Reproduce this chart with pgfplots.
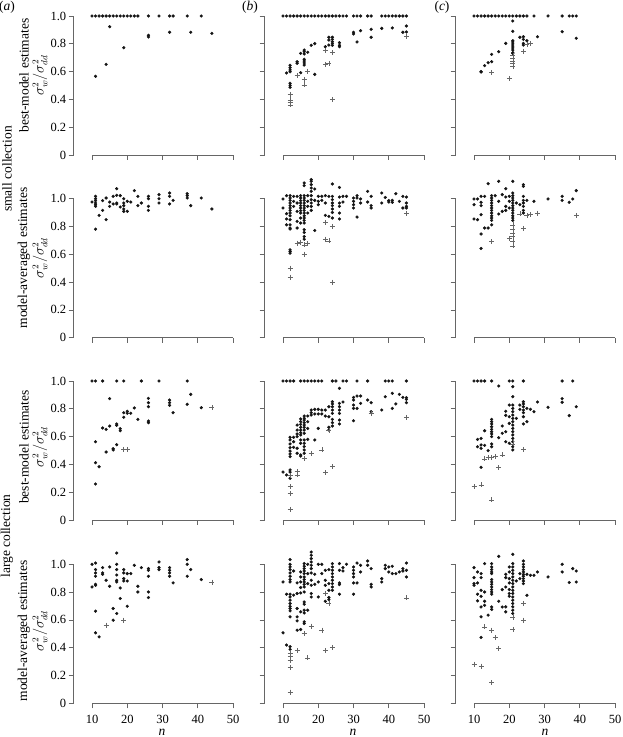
\documentclass[border=0pt]{standalone}
\usepackage{fontspec}
\setmainfont{Liberation Serif}
\usepackage{pgfplots}
\pgfplotsset{compat=1.18}
\definecolor{axg}{gray}{0.4}
\pgfplotsset{
 panel/.style={scale only axis, width=162.86pt, height=152.9pt, xmin=4.8, xmax=51, ymin=0, ymax=1.1, clip=false,
  axis x line*=bottom, axis y line*=left, axis line style={draw=none},
  xtick={10,20,30,40,50}, ytick={0,0.2,0.4,0.6,0.8,1.0}, xticklabels={}, yticklabels={},
  tick align=outside, major tick length=5pt, tick style={color=axg, line width=0.6pt},
  ticklabel style={font=\fontsize{12.5}{14}\selectfont}, xticklabel style={yshift=-3pt}, yticklabel style={xshift=1pt},
  anchor=south west},
 ylab/.style={yticklabels={0,0.2,0.4,0.6,0.8,1.0}},
 xlab/.style={xticklabels={10,20,30,40,50}},
 dot/.style={only marks, mark=*, mark size=1.4pt, color=black!92, mark options={draw=none, fill=black!92}},
 pls/.style={only marks, mark=+, mark size=2.5pt, color=black!60, mark options={line width=0.6pt}},
}
\newcommand{\axlines}{\draw[axg, line width=0.6pt] (axis cs:10,0) -- (axis cs:50,0);
 \draw[axg, line width=0.6pt] (axis cs:4.8,0) -- (axis cs:4.8,1);}
\begin{document}
\begin{tikzpicture}[x=1pt,y=1pt]
\useasboundingbox (0,0) rectangle (622,737);
\def\fs{\fontsize{13.5}{15}\selectfont}
% ---------- Row 1 ----------
\begin{axis}[panel, ylab, at={(73.7pt,582pt)}]
\addplot[dot] coordinates {(10,1)(11,1)(12,1)(13,1)(14,1)(15,1)(16,1)(17,1)(18,1)(19,1)(20,1)(21,1)(22,1)(23,1)(26,1)(29,1)(32,1)(33,1)(37,1)(41,1)
(11,0.566)(14,0.652)(15,0.923)(19,0.772)(26,0.861)(26,0.849)(32,0.883)(38,0.883)(44,0.875)};
\axlines
\end{axis}
\begin{axis}[panel, at={(264.7pt,582pt)}]
\addplot[dot] coordinates {(10,1)(11,1)(12,1)(13,1)(14,1)(15,1)(16,1)(17,1)(18,1)(19,1)(20,1)(21,1)(22,1)(23,1)(24,1)(25,1)(26,1)(27,1)(28,1)(30,1)(31,1)(32,1)(34,1)(35,1)(38,1)(39,1)(40,1)(41,1)(42,1)(43,1)(44,1)(45,1)
(11,0.590)(12,0.645)(12,0.628)(12,0.612)(12,0.599)(12,0.516)(12,0.501)(12,0.487)(14,0.671)(14,0.660)(15,0.731)(15,0.592)(16,0.755)(16,0.743)(16,0.727)(16,0.688)(16,0.676)(16,0.662)(16,0.647)(17,0.739)(18,0.789)(19,0.801)(19,0.580)(22,0.779)(23,0.791)(23,0.847)(23,0.827)(24,0.847)(24,0.832)(24,0.815)(24,0.801)(24,0.789)(26,0.808)(26,0.789)(26,0.779)(30,0.883)(30,0.871)(31,0.813)(32,0.894)(35,0.904)(35,0.847)(38,0.911)(41,0.914)(44,0.883)(45,0.928)(45,0.885)};
\addplot[pls] coordinates {(12,0.437)(12,0.396)(12,0.376)(12,0.360)(14,0.573)(16,0.544)(16,0.504)(17,0.604)(22,0.750)(22,0.652)(23,0.660)(24,0.736)(24,0.400)(45,0.856)};
\axlines
\end{axis}
\begin{axis}[panel, at={(455.7pt,582pt)}]
\addplot[dot] coordinates {(10,1)(11,1)(12,1)(13,1)(14,1)(15,1)(16,1)(17,1)(18,1)(19,1)(20,1)(21,1)(22,1)(23,1)(24,1)(25,1)(27,1)(31,1)(35,1)(37,1)(38,1)(39,1)
(12,0.597)(12,0.600)(13,0.643)(14,0.664)(15,0.724)(15,0.671)(17,0.743)(19,0.803)(21,0.964)(21,0.890)(21,0.822)(21,0.813)(21,0.799)(21,0.784)(21,0.770)(21,0.755)(21,0.736)(21,0.731)(23,0.847)(24,0.851)(24,0.832)(24,0.803)(24,0.791)(25,0.822)(28,0.851)(35,0.887)(39,0.840)};
\addplot[pls] coordinates {(15,0.592)(20,0.549)(21,0.719)(21,0.698)(21,0.676)(21,0.662)(21,0.640)(24,0.748)(25,0.796)(26,0.803)};
\axlines
\end{axis}
% ---------- Row 2 ----------
\begin{axis}[panel, ylab, at={(73.7pt,399.3pt)}]
\addplot[dot] coordinates {(10,0.976)(11,0.986)(11,0.969)(11,0.957)(11,0.945)(11,1.017)(11,1.0)(11,0.781)(12,0.880)(13,0.986)(13,0.916)(14,1.005)(14,0.849)(15,0.976)(15,0.945)(16,1.017)(16,0.962)(17,1.072)(17,1.024)(17,0.969)(17,0.962)(18,1.022)(18,0.940)(19,1.0)(19,0.969)(19,0.950)(19,0.926)(19,0.909)(20,0.981)(20,0.909)(21,0.976)(22,1.058)(23,1.017)(23,0.950)(24,0.969)(26,1.017)(26,1.0)(26,0.945)(26,0.916)(29,1.029)(29,1.0)(29,0.969)(32,1.041)(32,1.017)(32,0.962)(33,0.988)(37,1.036)(37,1.022)(37,1.005)(38,0.950)(41,1.005)(44,0.926)};
\axlines
\end{axis}
\begin{axis}[panel, at={(264.7pt,399.3pt)}]
\addplot[dot] coordinates {(10,0.998)(10,0.933)
(11,1.022)(11,0.892)(11,0.854)(11,0.812)
(12,1.022)(12,1.005)(12,0.988)(12,0.969)(12,0.950)(12,0.933)(12,0.916)(12,0.897)(12,0.877)(12,0.849)(12,0.812)(12,0.789)(12,0.782)(12,0.632)(12,0.620)(12,0.608)
(13,1.017)(13,0.981)(13,0.945)
(14,1.017)(14,0.969)(14,0.909)(14,0.837)(14,0.789)
(15,1.022)(15,1.005)(15,0.986)(15,0.969)(15,0.950)(15,0.933)(15,0.914)(15,0.897)(15,0.861)(15,0.825)
(16,1.113)(16,1.094)(16,1.022)(16,1.005)(16,0.988)(16,0.969)(16,0.950)(16,0.933)(16,0.916)(16,0.897)(16,0.877)(16,0.861)(16,0.844)(16,0.825)(16,0.777)(16,0.757)(16,0.728)(16,0.709)
(17,1.022)(17,0.981)(17,0.945)(17,0.897)
(18,1.137)(18,1.125)(18,1.101)(18,1.077)(18,1.053)(18,1.022)(18,0.993)(18,0.969)(18,0.945)(18,0.916)
(19,1.070)(19,0.988)(19,0.771)
(20,1.017)(20,0.981)(20,0.957)
(21,1.017)(21,0.988)
(22,1.022)(22,0.969)(22,0.880)
(23,1.017)(23,0.873)
(24,1.106)(24,1.017)(24,0.993)(24,0.969)(24,0.950)(24,0.926)(24,0.901)(24,0.861)
(26,1.081)(26,1.012)(26,0.969)(26,0.945)(26,0.897)(26,0.854)
(27,1.017)(27,0.976)(28,1.017)
(30,1.005)(30,0.981)(30,0.957)(30,0.933)
(31,1.022)(31,1.005)(31,0.868)
(32,0.998)(32,0.969)(34,1.053)(34,0.976)
(35,1.017)(35,0.950)(35,0.933)
(38,1.041)(38,0.969)(39,1.009)(40,0.986)(40,0.976)(41,0.988)(41,0.974)(42,1.036)(43,0.981)(44,1.017)(44,0.933)
(45,1.012)(45,0.969)(45,0.945)(45,0.933)};
\addplot[pls] coordinates {(12,0.500)(12,0.435)(14,0.681)(15,0.685)(16,0.668)(16,0.601)(17,0.676)(22,0.829)(22,0.709)(23,0.697)(24,0.800)(24,0.399)(45,0.897)};
\axlines
\end{axis}
\begin{axis}[panel, at={(455.7pt,399.3pt)}]
\addplot[dot] coordinates {(10,0.998)(10,0.957)(10,0.854)
(11,0.998)(11,0.849)
(12,1.017)(12,0.974)(12,0.950)(12,0.885)(12,0.746)(12,0.642)
(13,1.017)(13,0.789)(14,0.789)(14,1.108)
(15,1.022)(15,1.005)(15,0.988)(15,0.969)(15,0.950)(15,0.933)(15,0.916)(15,0.897)(15,0.877)(15,0.861)(15,0.844)(15,0.812)
(16,1.022)(17,1.125)(17,0.981)(17,0.890)(18,1.029)(18,0.909)
(19,1.072)(19,1.012)(19,0.945)(19,0.916)
(20,1.017)(20,0.981)(20,0.933)
(21,1.125)(21,1.041)(21,1.022)(21,1.005)(21,0.988)(21,0.969)(21,0.950)(21,0.933)(21,0.916)(21,0.897)(21,0.877)(21,0.861)(21,0.844)
(22,0.969)(23,0.957)
(24,1.101)(24,1.089)(24,1.017)(24,0.988)(24,0.969)(24,0.945)(24,0.916)(24,0.897)
(25,0.988)(27,0.981)(31,0.998)(35,1.017)(35,0.988)(37,0.974)(38,0.998)(39,1.058)};
\addplot[pls] coordinates {(15,0.692)(20,0.712)(21,0.812)(21,0.782)(21,0.753)(21,0.728)(21,0.692)(21,0.661)(23,0.890)(24,0.786)(25,0.877)(26,0.885)(28,0.897)(39,0.880)};
\axlines
\end{axis}
% ---------- Row 3 ----------
\begin{axis}[panel, ylab, at={(73.7pt,217pt)}]
\addplot[dot] coordinates {(10,1)(11,1)(13,1)(17,1)(19,1)(24,1)(29,1)(37,1)
(11,0.563)(11,0.412)(11,0.259)(12,0.383)(13,0.662)(14,0.652)(14,0.489)(15,0.873)(15,0.676)(16,0.513)(16,0.504)(17,0.691)(17,0.681)(17,0.542)(18,0.657)(18,0.642)(19,0.772)(19,0.739)(20,0.782)(20,0.768)(21,0.768)(22,0.806)(23,0.724)(26,0.875)(26,0.844)(26,0.815)(26,0.712)(26,0.700)(32,0.863)(32,0.844)(32,0.825)(33,0.772)(37,0.832)(38,0.904)(41,0.808)};
\addplot[pls] coordinates {(19,0.508)(20,0.508)(44,0.808)};
\axlines
\end{axis}
\begin{axis}[panel, at={(264.7pt,217pt)}]
\addplot[dot] coordinates {(10,1)(11,1)(12,1)(13,1)(15,1)(16,1)(17,1)(18,1)(19,1)(20,1)(21,1)(24,1)(25,1)(27,1)(28,1)(31,1)(34,1)(39,1)(40,1)(41,1)(45,1)
(26,0.947)(10,0.345)(11,0.324)
(12,0.595)(12,0.576)(12,0.547)(12,0.520)(12,0.496)(12,0.475)(12,0.456)(12,0.360)(12,0.345)(12,0.300)
(13,0.595)(13,0.563)(13,0.523)
(14,0.683)(14,0.647)(14,0.619)(14,0.600)(14,0.516)(14,0.480)
(15,0.727)(15,0.707)(15,0.688)(15,0.667)(15,0.647)(15,0.628)(15,0.612)(15,0.576)(15,0.552)(15,0.468)(15,0.460)
(16,0.748)(16,0.732)(16,0.719)(16,0.700)(16,0.683)(16,0.667)(16,0.647)(16,0.624)(16,0.576)(16,0.552)(16,0.528)(16,0.504)(16,0.480)
(17,0.748)(17,0.707)(17,0.659)(17,0.580)
(18,0.791)(18,0.772)(18,0.755)
(19,0.796)(19,0.763)(19,0.576)
(20,0.796)(20,0.763)(20,0.659)
(21,0.791)(21,0.763)(22,0.791)(22,0.748)
(23,0.815)(23,0.743)(23,0.667)(23,0.647)
(24,0.851)(24,0.835)(24,0.815)(24,0.791)(24,0.767)(24,0.724)(24,0.700)(24,0.676)
(26,0.839)(26,0.815)(26,0.791)(26,0.767)(26,0.719)(26,0.691)
(27,0.849)(30,0.882)(30,0.863)(30,0.827)(30,0.803)(30,0.714)
(31,0.892)(31,0.803)(32,0.892)(32,0.839)(34,0.863)(35,0.844)(35,0.779)(38,0.791)(39,0.887)(41,0.911)(41,0.803)(42,0.835)(43,0.904)(44,0.882)(45,0.880)(45,0.868)(45,0.844)};
\addplot[pls] coordinates {(12,0.320)(12,0.240)(12,0.192)(12,0.077)(14,0.348)(14,0.324)(16,0.444)(18,0.480)(21,0.504)(22,0.340)(23,0.642)(24,0.383)(35,0.767)(45,0.739)};
\axlines
\end{axis}
\begin{axis}[panel, at={(455.7pt,217pt)}]
\addplot[dot] coordinates {(10,1)(11,1)(12,1)(13,1)(15,1)(20,1)(21,1)(24,1)(35,1)(38,1)
(17,0.964)(21,0.959)(21,0.887)
(11,0.580)(11,0.527)(12,0.587)(12,0.540)(12,0.516)(12,0.379)(13,0.642)(13,0.537)(14,0.499)
(15,0.724)(15,0.707)(15,0.691)(15,0.671)(15,0.652)(15,0.635)(15,0.619)(15,0.600)(15,0.547)(15,0.527)
(17,0.592)(18,0.676)(18,0.624)(19,0.782)(19,0.753)(19,0.635)(19,0.563)
(20,0.827)(20,0.743)(20,0.695)(20,0.552)
(21,0.827)(21,0.803)(21,0.779)(21,0.755)(21,0.731)(21,0.707)(21,0.683)(21,0.659)(21,0.635)(21,0.612)(21,0.587)(21,0.563)(21,0.527)(21,0.504)
(22,0.731)(23,0.827)(23,0.796)
(24,0.851)(24,0.835)(24,0.815)(24,0.791)(24,0.772)(24,0.743)(24,0.691)
(25,0.803)(25,0.707)(26,0.796)(27,0.779)(28,0.849)(31,0.811)(35,0.873)(35,0.847)(37,0.751)(39,0.815)};
\addplot[pls] coordinates {(10,0.240)(12,0.252)(13,0.439)(14,0.451)(15,0.451)(15,0.144)(16,0.456)(17,0.376)(18,0.468)(21,0.547)(24,0.508)};
\axlines
\end{axis}
% ---------- Row 4 ----------
\begin{axis}[panel, ylab, xlab, at={(73.7pt,33.7pt)}]
\addplot[dot] coordinates {(10,1.0)(10,0.837)
(11,1.009)(11,0.962)(11,0.938)(11,0.914)(11,0.856)(11,0.849)(11,0.663)(11,0.507)
(12,0.478)(13,0.976)(13,0.938)(13,0.928)(14,0.885)(15,0.981)(15,0.842)(16,0.682)(16,0.598)
(17,1.081)(17,1.0)(17,0.962)(17,0.923)(17,0.885)(17,0.873)(17,0.646)
(18,0.830)(18,0.754)(19,0.962)(19,0.938)(19,0.897)(19,0.880)(20,0.933)(20,0.880)(20,0.698)
(21,0.933)(22,0.993)(23,0.842)(23,0.801)(24,0.976)
(26,0.969)(26,0.957)(26,0.914)(26,0.801)(26,0.761)
(29,1.017)(29,0.976)(29,0.962)(32,0.976)(32,0.957)(32,0.938)(32,0.914)(33,0.866)
(37,1.034)(37,1.0)(37,0.914)(38,0.962)(41,0.890)};
\addplot[pls] coordinates {(14,0.562)(19,0.598)(44,0.872)};
\axlines
\end{axis}
\begin{axis}[panel, xlab, at={(264.7pt,33.7pt)}]
\addplot[dot] coordinates {(10,0.873)(10,0.507)(11,0.785)(11,0.419)
(12,1.034)(12,1.0)(12,0.981)(12,0.962)(12,0.938)(12,0.914)(12,0.890)(12,0.873)(12,0.785)(12,0.765)(12,0.742)(12,0.718)(12,0.698)(12,0.682)(12,0.665)(12,0.622)(12,0.407)(12,0.388)
(13,0.952)(13,0.778)
(14,0.866)(14,0.790)(14,0.682)(14,0.622)(14,0.593)(14,0.526)
(15,0.945)(15,0.909)(15,0.873)(15,0.833)(15,0.794)(15,0.658)(15,0.531)
(16,1.005)(16,0.986)(16,0.969)(16,0.952)(16,0.933)(16,0.909)(16,0.890)(16,0.873)(16,0.856)(16,0.837)(16,0.801)(16,0.729)(16,0.713)(16,0.670)(16,0.650)(16,0.586)(16,0.574)
(17,1.0)(17,0.933)(17,0.861)(17,0.670)
(18,1.088)(18,1.065)(18,1.041)(18,1.017)(18,0.993)(18,0.969)(18,0.938)(18,0.885)(18,0.849)(18,0.790)(18,0.765)
(19,0.928)(19,0.856)(20,1.0)(20,0.873)(20,0.765)(21,1.0)(21,0.933)
(22,0.957)(22,0.885)(22,0.849)(22,0.734)
(23,0.962)(23,0.861)(23,0.813)(23,0.761)(23,0.746)
(24,1.005)(24,0.981)(24,0.957)(24,0.933)(24,0.909)(24,0.885)(24,0.861)(24,0.837)(24,0.813)
(26,1.005)(26,0.957)(26,0.866)(26,0.854)(26,0.785)
(27,0.976)(27,0.952)(28,1.0)
(30,0.981)(30,0.957)(30,0.933)(30,0.909)(30,0.866)(30,0.785)
(31,1.009)(31,0.866)(32,0.993)(32,0.945)(34,1.024)(34,0.993)(35,0.969)(35,0.856)(35,0.837)
(38,0.897)(38,0.873)(39,0.993)(39,0.969)(40,0.981)(40,0.945)(41,0.986)(41,0.933)(42,0.933)(43,0.945)(44,0.969)(44,0.952)(45,1.009)(45,0.957)(45,0.909)};
\addplot[pls] coordinates {(12,0.363)(12,0.335)(12,0.311)(12,0.258)(12,0.080)(14,0.378)(16,0.503)(17,0.327)(18,0.555)(21,0.526)(22,0.790)(22,0.378)(23,0.718)(24,0.402)(45,0.758)};
\axlines
\end{axis}
\begin{axis}[panel, xlab, at={(455.7pt,33.7pt)}]
\addplot[dot] coordinates {(10,0.976)(10,0.904)(10,0.861)(10,0.849)
(11,0.945)(11,0.866)(11,0.785)(11,0.737)
(12,0.933)(12,0.904)(12,0.813)(12,0.770)(12,0.693)(12,0.622)(12,0.474)
(13,1.005)(13,0.801)(13,0.734)(13,0.705)(14,0.634)
(15,1.005)(15,0.981)(15,0.962)(15,0.945)(15,0.933)(15,0.890)(15,0.873)(15,0.856)(15,0.837)(15,0.818)(15,0.801)(15,0.785)(15,0.693)(15,0.675)
(17,1.057)(17,0.734)(18,0.818)(18,0.693)
(19,0.928)(19,0.904)(19,0.837)(19,0.694)(19,0.658)
(20,0.981)(20,0.945)(20,0.897)(20,0.866)(20,0.818)(20,0.790)(20,0.770)
(21,1.072)(21,1.005)(21,0.981)(21,0.957)(21,0.933)(21,0.909)(21,0.885)(21,0.861)(21,0.837)(21,0.813)(21,0.790)(21,0.765)(21,0.742)(21,0.718)(21,0.694)(21,0.670)(21,0.646)
(22,0.880)(23,0.933)(23,0.897)
(24,1.024)(24,1.0)(24,0.981)(24,0.962)(24,0.945)(24,0.928)(24,0.914)(24,0.897)(24,0.880)(24,0.861)
(25,0.928)(25,0.777)(26,0.921)(27,0.921)(28,0.945)(31,0.909)(35,1.0)(35,0.945)(37,0.869)(38,0.969)(39,0.952)(39,0.873)};
\addplot[pls] coordinates {(10,0.282)(12,0.268)(13,0.550)(15,0.526)(15,0.148)(16,0.474)(17,0.395)(21,0.617)(21,0.531)(24,0.718)(24,0.598)};
\axlines
\end{axis}
% ---------- Labels ----------
\node[font=\fs] at (7,729.5) {(\textit{a})};
\node[font=\fs] at (250,729.5) {(\textit{b})};
\node[font=\fs] at (442,729.5) {(\textit{c})};
\node[font=\fs, rotate=90] at (7,568) {small collection};
\node[font=\fs, rotate=90] at (7,201) {large collection};
\node[font=\fs, rotate=90] at (24,661.5) {best-model estimates};
\node[font=\fs, rotate=90] at (40,661.5) {$\sigma_{w}^{2}/\sigma_{dd}^{2}$};
\node[font=\fs, rotate=90] at (24,479) {model-averaged estimates};
\node[font=\fs, rotate=90] at (40,479) {$\sigma_{w}^{2}/\sigma_{dd}^{2}$};
\node[font=\fs, rotate=90] at (24,290) {best-model estimates};
\node[font=\fs, rotate=90] at (40,290) {$\sigma_{w}^{2}/\sigma_{dd}^{2}$};
\node[font=\fs, rotate=90] at (24,106) {model-averaged estimates};
\node[font=\fs, rotate=90] at (40,106) {$\sigma_{w}^{2}/\sigma_{dd}^{2}$};
\node[font=\fs] at (162,5) {\textit{n}};
\node[font=\fs] at (353,5) {\textit{n}};
\node[font=\fs] at (545,5) {\textit{n}};
\end{tikzpicture}
\end{document}
